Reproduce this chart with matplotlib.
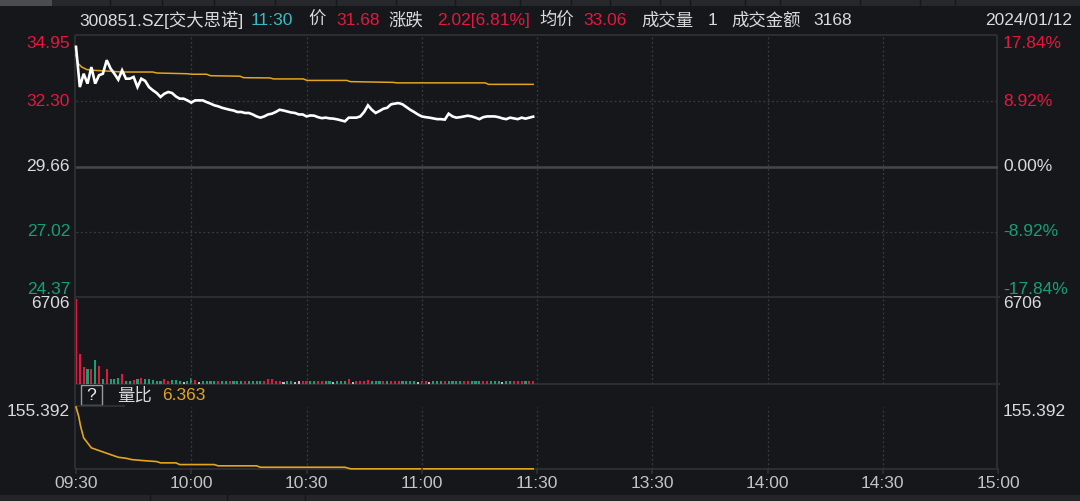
import matplotlib
matplotlib.use("Agg")
import numpy as np
import matplotlib.pyplot as plt
import matplotlib.transforms as mtransforms
from matplotlib.patches import Rectangle

plt.rcParams['font.family'] = ['Liberation Sans', 'Noto Sans CJK SC', 'DejaVu Sans']

BG = '#15171b'
RED = '#e5173f'
GREEN = '#17a074'
GOLD = '#e3a51b'
TXT = '#dadada'
GRID = '#3a3c41'
FRAME = '#303236'
FS = 12.5

# ---- data ----
pre_close = 29.66

# minute prices 09:30 .. 11:29
price = [34.51, 32.88, 33.42, 33.02, 33.69, 33.02, 33.36, 33.42, 33.97, 33.63,
         33.42, 33.18, 33.56, 33.22, 33.22, 33.29, 32.88, 33.22, 33.13, 32.88,
         32.75, 32.64, 32.48, 32.61, 32.68, 32.64, 32.50, 32.41, 32.41, 32.34,
         32.25, 32.34, 32.34, 32.34, 32.27, 32.21, 32.14, 32.10, 32.04, 32.00,
         31.96, 31.93, 31.87, 31.87, 31.83, 31.83, 31.77, 31.69, 31.64, 31.69,
         31.77, 31.80, 31.87, 31.96, 31.93, 31.89, 31.85, 31.83, 31.77, 31.77,
         31.69, 31.73, 31.72, 31.66, 31.62, 31.64, 31.61, 31.60, 31.57, 31.53,
         31.49, 31.64, 31.64, 31.64, 31.69, 31.87, 32.14, 31.96, 31.83, 31.91,
         32.00, 32.04, 32.18, 32.21, 32.23, 32.18, 32.07, 31.96, 31.87, 31.77,
         31.69, 31.66, 31.64, 31.61, 31.58, 31.58, 31.56, 31.80, 31.69, 31.64,
         31.66, 31.69, 31.72, 31.69, 31.64, 31.58, 31.66, 31.69, 31.69, 31.69,
         31.66, 31.61, 31.58, 31.64, 31.61, 31.58, 31.64, 31.60, 31.64, 31.68]

avg_t = [0, 0.6, 1.5, 2.8, 4.5, 8, 12, 20, 21, 29, 30, 34, 35, 42.7, 43.6,
         50.5, 51.4, 59.2, 60.1, 70.5, 71.4, 82.6, 83.5, 106.5, 107.4, 119]
avg_v = [34.17, 33.83, 33.69, 33.59, 33.56, 33.53, 33.49, 33.49, 33.45, 33.42,
         33.40, 33.40, 33.34, 33.32, 33.26, 33.25, 33.21, 33.21, 33.15, 33.15,
         33.10, 33.07, 33.05, 33.05, 32.99, 32.99]

volume = [6706, 2340, 1330, 1170, 1120, 1860, 1380, 370, 1170, 320,
          370, 400, 745, 215, 215, 265, 320, 410, 320, 360,
          240, 210, 210, 360, 210, 240, 250, 160, 130, 160,
          400, 290, 130, 210, 210, 210, 210, 160, 210, 210,
          160, 210, 210, 210, 180, 210, 210, 210, 210, 180,
          330, 320, 160, 210, 130, 180, 210, 130, 160, 210,
          230, 210, 210, 160, 180, 210, 210, 130, 210, 210,
          210, 360, 130, 180, 210, 210, 300, 210, 210, 210,
          180, 210, 180, 210, 180, 210, 210, 210, 210, 130,
          210, 210, 130, 210, 210, 210, 180, 210, 180, 210,
          180, 210, 180, 210, 180, 210, 210, 230, 210, 210,
          180, 130, 180, 180, 210, 180, 180, 180, 180, 180]
vol_dir = ("rrrgrgrgrggg" "rggrgrggg" "ggrrgggngg" "rnggggrggr"
           "gggrggggrr" "rrrnggnnrr" "ggrrggngggrnrrrr" "gggrgrrrgggg"
           "nrrngggrgggg" "rrgggrrggg" "ngg" "rrrgrr")

ratio_t = [0, 0.7, 1.2, 2, 4, 6, 9, 11, 13, 14.5, 17.5, 21, 22, 26, 27,
           36, 37, 47, 48, 70, 71.5, 119]
ratio_v = [155.392, 132.8, 108.8, 80.9, 56.9, 50.4, 40.7, 34.3, 31.9, 28.7,
           26.3, 23.9, 20.8, 20.8, 16.7, 16.7, 13.6, 13.6, 10.2, 10.2, 6.363, 6.363]

price_ticks = [34.95, 32.30, 29.66, 27.02, 24.37]
pct_labels = ['17.84%', '8.92%', '0.00%', '-8.92%', '-17.84%']
tick_colors = [RED, RED, TXT, GREEN, GREEN]
tick_va = ['top', 'center', 'center', 'center', 'bottom']

time_pos = [0, 30, 60, 90, 120, 150, 180, 210, 240]
time_labels = ['09:30', '10:00', '10:30', '11:00', '11:30', '13:30', '14:00', '14:30', '15:00']

W, H = 1080, 501
fig = plt.figure(figsize=(W / 100, H / 100), dpi=100, facecolor=BG)


def px_axes(x0, y0, x1, y1):
    return fig.add_axes([x0 / W, 1 - y1 / H, (x1 - x0) / W, (y1 - y0) / H])


# overlay in pixel coordinates for frame / header
ov = fig.add_axes([0, 0, 1, 1], zorder=0)
ov.set_xlim(0, W)
ov.set_ylim(H, 0)
ov.axis('off')
ov.add_patch(Rectangle((0, 0), W, 6, color='#26282c', lw=0))
ov.add_patch(Rectangle((0, 0), 52, 6, color='#4a4c50', lw=0))
for sx in [110, 162, 214, 275, 336, 396, 455, 520, 571, 610, 660, 690, 745, 780, 860, 920, 955]:
    ov.plot([sx, sx], [0, 6], color='#15171b', lw=1)
ov.add_patch(Rectangle((0, 495), W, 6, color='#232529', lw=0))
for sx in [150, 227, 305]:
    ov.plot([sx, sx], [495, 501], color='#15171b', lw=1)

fr = dict(color=FRAME, lw=1.2, solid_capstyle='butt')
ov.plot([75, 997], [35, 35], **fr)
ov.plot([75, 75], [35, 469], **fr)
ov.plot([997, 997], [35, 469], **fr)
ov.plot([75, 1000], [297, 297], **fr)
ov.plot([75, 1000], [384, 384], **fr)
ov.plot([75, 997], [469, 469], **fr)
ov.plot([75, 125], [406, 406], **fr)

# header
hdr = [(79, '300851.SZ[交大思诺]', TXT), (251, '11:30', '#38bcc4'), (308, '价', TXT),
       (336, '31.68', RED), (388, '涨跌', TXT), (437, '2.02[6.81%]', RED),
       (539, '均价', TXT), (583, '33.06', RED), (641, '成交量', TXT), (708, '1', TXT),
       (731, '成交金额', TXT), (813, '3168', TXT)]
for hx, s, c in hdr:
    ov.text(hx, 20, s, color=c, fontsize=FS, va='center', ha='left')
ov.text(1072, 20, '2024/01/12', color=TXT, fontsize=FS, va='center', ha='right')

# ratio header
ov.add_patch(Rectangle((81, 385), 21, 20, fill=False, ec='#9a9a9a', lw=1))
ov.text(91.5, 395.5, '?', color='#eeeeee', fontsize=FS, ha='center', va='center')
ov.text(117, 395.5, '量比', color=TXT, fontsize=FS, ha='left', va='center')
ov.text(162, 395.5, '6.363', color=GOLD, fontsize=FS, ha='left', va='center')

X0, X1 = 76, 998
minutes = np.arange(len(price))


def vgrid(ax):
    for m in time_pos[1:-1]:
        ax.axvline(m, color=GRID, lw=0.9, ls=(0, (1.5, 2)))


def style(ax):
    ax.set_facecolor('none')
    ax.set_xlim(0, 240)
    ax.set_xticks([])
    ax.set_yticks([])
    for sp in ax.spines.values():
        sp.set_visible(False)


# price panel
ax = px_axes(X0, 36, X1, 297)
style(ax)
ax.set_ylim(price_ticks[-1], price_ticks[0])
vgrid(ax)
ax.axhline(price_ticks[1], color=GRID, lw=0.9, ls=(0, (1.5, 2)))
ax.axhline(price_ticks[3], color=GRID, lw=0.9, ls=(0, (1.5, 2)))
ax.axhline(pre_close, color='#45474c', lw=1.8)
ax.plot(avg_t, avg_v, color=GOLD, lw=1.1, clip_on=False)
ax.plot(minutes, price, color='white', lw=1.9, clip_on=False, solid_joinstyle='miter')
tl = mtransforms.blended_transform_factory(ax.transAxes, ax.transData)
for v, lab, c, va in zip(price_ticks, pct_labels, tick_colors, tick_va):
    ax.text(-0.0065, v, f'{v:.2f}', transform=tl, color=c, fontsize=FS, ha='right', va=va)
    ax.text(1.0055, v, lab, transform=tl, color=c, fontsize=FS, ha='left', va=va)

# volume panel
axv = px_axes(X0, 299.3, X1, 383.5)
style(axv)
axv.set_ylim(0, max(volume))
vgrid(axv)
cmap = {'r': RED, 'g': GREEN, 'n': '#bfbfbf'}
axv.bar(minutes, volume, width=0.55, color=[cmap[d] for d in vol_dir], lw=0)
tv = mtransforms.offset_copy(mtransforms.blended_transform_factory(axv.transAxes, axv.transData),
                             fig=fig, x=0, y=-4, units='dots')
axv.text(-0.0065, max(volume), '6706', transform=tv, color=TXT, fontsize=FS, ha='right', va='center')
axv.text(1.0055, max(volume), '6706', transform=tv, color=TXT, fontsize=FS, ha='left', va='center')

# volume ratio panel
axr = px_axes(X0, 407, X1, 469)
style(axr)
axr.set_ylim(6.0, ratio_v[0])
vgrid(axr)
axr.plot(ratio_t, ratio_v, color=GOLD, lw=1.2, clip_on=False)
tr = mtransforms.offset_copy(mtransforms.blended_transform_factory(axr.transAxes, axr.transData),
                             fig=fig, x=0, y=-4, units='dots')
axr.text(-0.0065, ratio_v[0], '155.392', transform=tr, color=TXT, fontsize=FS, ha='right', va='center')
axr.text(1.0055, ratio_v[0], '155.392', transform=tr, color=TXT, fontsize=FS, ha='left', va='center')

tx = mtransforms.offset_copy(mtransforms.blended_transform_factory(axr.transData, axr.transAxes),
                             fig=fig, x=0, y=-15, units='dots')
tk = mtransforms.blended_transform_factory(axr.transData, axr.transAxes)
for m, lab in zip(time_pos, time_labels):
    axr.text(m, 0, lab, transform=tx, color='#c4c4c4', fontsize=FS, ha='center', va='center')
    axr.plot([m, m], [0, -0.06], transform=tk, color=FRAME, lw=1.2, clip_on=False)

fig.savefig('out.png', dpi=100, facecolor=BG)
